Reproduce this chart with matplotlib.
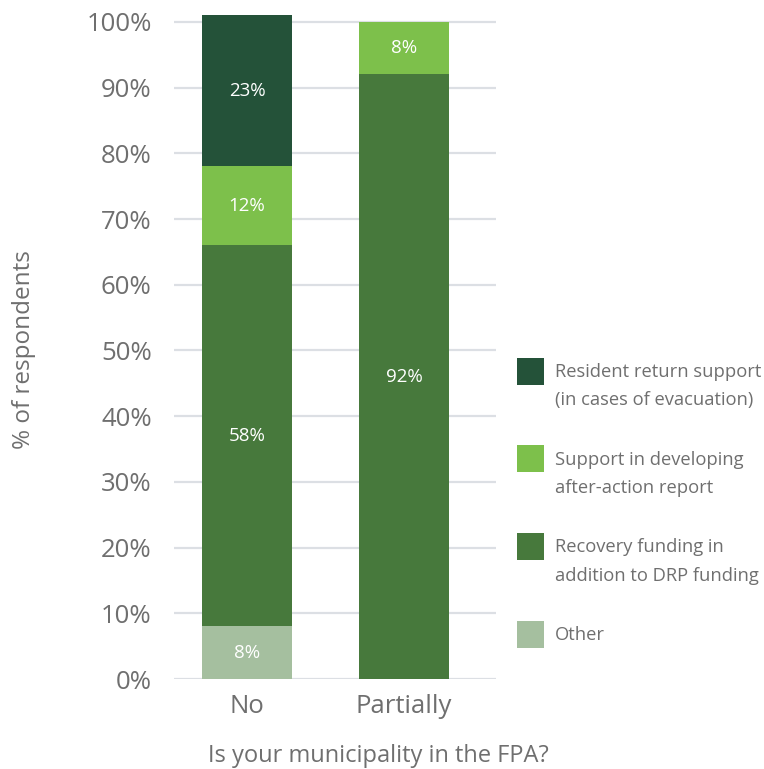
import matplotlib
matplotlib.use("Agg")
import matplotlib.pyplot as plt
from matplotlib.patches import Rectangle

plt.rcParams['font.family'] = ['Open Sans', 'DejaVu Sans']

categories = ["No", "Partially"]
series_names = [
    "Other",
    "Recovery funding in\naddition to DRP funding",
    "Support in developing\nafter-action report",
    "Resident return support\n(in cases of evacuation)",
]
other = [8, 0]
recovery = [58, 92]
after_action = [12, 8]
resident_return = [23, 0]
colors = ["#a5bf9f", "#47793c", "#7dc04b", "#245239"]

grey = "#6f6f6f"
W, H = 764, 769

fig = plt.figure(figsize=(W / 100, H / 100), dpi=100)
ax = fig.add_axes([0.2277, 0.117, 0.4215, 0.8673])

x = list(range(len(categories)))
bottom = [0, 0]
for vals, col in zip([other, recovery, after_action, resident_return], colors):
    bars = ax.bar(x, vals, width=0.573, bottom=bottom, color=col, zorder=3)
    for b, v, base in zip(bars, vals, bottom):
        if v > 0:
            ax.text(b.get_x() + b.get_width() / 2, base + v / 2, f"{v}%",
                    ha="center", va="center", color="white", fontsize=13.5, zorder=4)
    bottom = [a + b for a, b in zip(bottom, vals)]

ax.set_xlim(-0.465, 1.586)
ax.set_ylim(0, 101.5)
ax.set_yticks(range(0, 101, 10))
ax.set_yticklabels([f"{t}%" for t in range(0, 101, 10)])
ax.set_xticks(x)
ax.set_xticklabels(categories)
ax.tick_params(axis="both", length=0, colors=grey)
ax.tick_params(axis="y", pad=16, labelsize=18.5)
ax.tick_params(axis="x", pad=11, labelsize=18.5)
ax.grid(axis="y", color="#dcdfe4", linewidth=1.6, zorder=0)
for s in ax.spines.values():
    s.set_visible(False)

fig.text(0.031, 0.545, "% of respondents", rotation=90, ha="center", va="center",
         color=grey, fontsize=17.5)
fig.text(0.495, 0.009, "Is your municipality in the FPA?", ha="center", va="baseline",
         color=grey, fontsize=17)

# legend: square lined up with the first text line, top entry = last series
sq = 27
for i, (name, col) in enumerate(zip(series_names[::-1], colors[::-1])):
    y_line = 372 + 87.7 * i
    fig.add_artist(Rectangle((517 / W, 1 - (y_line - 1 + sq / 2) / H), sq / W, sq / H,
                             transform=fig.transFigure, color=col, lw=0))
    for j, line in enumerate(name.split("\n")):
        fig.text(555 / W, 1 - (y_line + 28.5 * j) / H, line, ha="left",
                 va="center", color=grey, fontsize=13.2)

plt.savefig("out.png", dpi=100)
